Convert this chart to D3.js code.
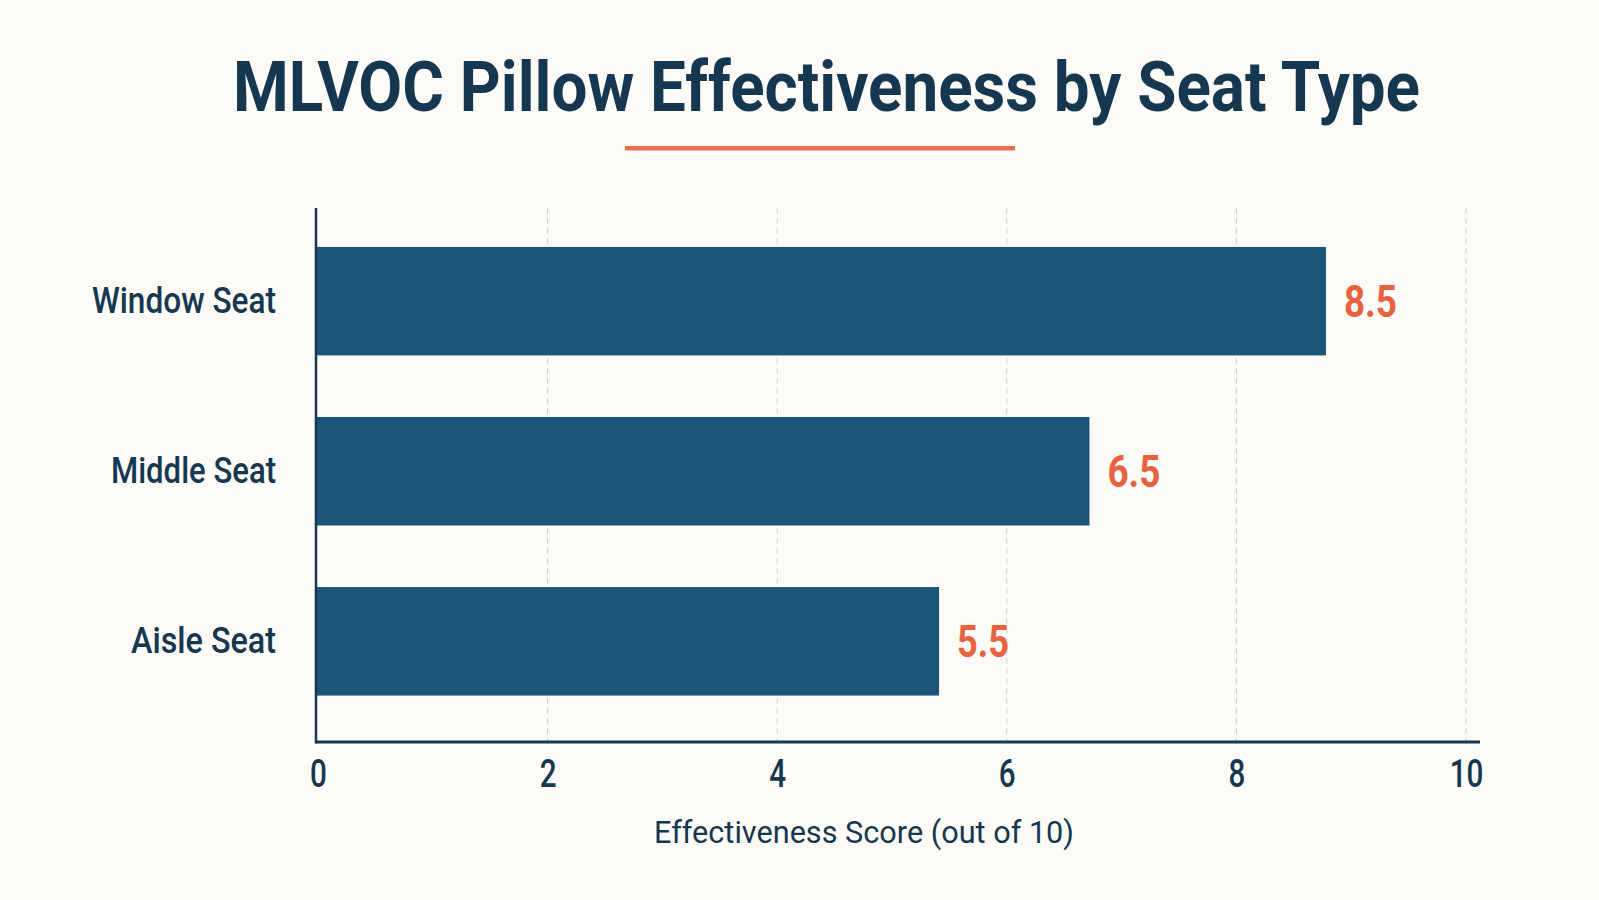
<!DOCTYPE html>
<html>
<head>
<meta charset="utf-8">
<script src="https://cdn.jsdelivr.net/npm/d3@7"></script>
<style>
  html, body { margin: 0; padding: 0; background: #fcfbf7; }
  svg { display: block; font-family: Roboto, "Noto Sans", sans-serif; }
</style>
</head>
<body>
<svg id="chart" width="1599" height="900"></svg>
<script>
// ---- data ----
const categories = ["Window Seat", "Middle Seat", "Aisle Seat"];
const barValues = [8.78, 6.72, 5.41];          // bar lengths as drawn
const valueLabels = ["8.5", "6.5", "5.5"];      // printed labels
const xTicks = [0, 2, 4, 6, 8, 10];
const titleText = "MLVOC Pillow Effectiveness by Seat Type";
const xAxisTitle = "Effectiveness Score (out of 10)";

// ---- styling ----
const navy = "#15374f";
const barColor = "#1b5478";
const orange = "#e8623f";
const W = 1599, H = 900;

const svg = d3.select("#chart");
svg.append("rect").attr("width", W).attr("height", H).attr("fill", "#fcfbf7");

const x = d3.scaleLinear().domain([0, 10]).range([318, 1466]);
const y = d3.scaleBand().domain(categories).range([208, 734.5])
  .paddingInner(0.362).paddingOuter(0.229);
const axisY = 742;

// title
svg.append("text")
  .attr("x", 233).attr("y", 111)
  .attr("font-size", 71).attr("font-weight", 700)
  .attr("fill", navy)
  .attr("textLength", 1187).attr("lengthAdjust", "spacingAndGlyphs")
  .text(titleText);
svg.append("rect")
  .attr("x", 625).attr("y", 146).attr("width", 390).attr("height", 4.5)
  .attr("fill", "#e8704f");

// gridlines
svg.append("g").selectAll("line")
  .data(xTicks.filter(d => d > 0))
  .join("line")
  .attr("x1", d => x(d)).attr("x2", d => x(d))
  .attr("y1", 208).attr("y2", axisY)
  .attr("stroke", "#cfcfcc").attr("stroke-width", 1)
  .attr("stroke-dasharray", "6,4");

// bars
svg.append("g").selectAll("rect")
  .data(categories)
  .join("rect")
  .attr("x", x(0) - 2)
  .attr("y", d => y(d))
  .attr("width", (d, i) => x(barValues[i]) - x(0) + 2)
  .attr("height", y.bandwidth())
  .attr("fill", barColor);

// value labels
const labelWidths = [53, 53, 52];
svg.append("g").selectAll("text")
  .data(categories)
  .join("text")
  .attr("x", (d, i) => x(barValues[i]) + 18)
  .attr("y", d => y(d) + y.bandwidth() / 2 + 16)
  .attr("font-size", 45).attr("font-weight", 700)
  .attr("fill", orange)
  .attr("textLength", (d, i) => labelWidths[i])
  .attr("lengthAdjust", "spacingAndGlyphs")
  .text((d, i) => valueLabels[i]);

// category labels
const catWidths = [184, 165, 145];
svg.append("g").selectAll("text")
  .data(categories)
  .join("text")
  .attr("x", 276)
  .attr("y", d => y(d) + y.bandwidth() / 2 + 12)
  .attr("text-anchor", "end")
  .attr("font-size", 36).attr("font-weight", 500)
  .attr("fill", navy)
  .attr("textLength", (d, i) => catWidths[i])
  .attr("lengthAdjust", "spacingAndGlyphs")
  .text(d => d);

// axes
const xAxis = d3.axisBottom(x).tickValues(xTicks).tickSize(0).tickPadding(0);
const gx = svg.append("g").attr("transform", `translate(0,${axisY})`).call(xAxis);
gx.select(".domain").remove();
gx.selectAll("text")
  .attr("font-family", "Roboto, sans-serif")
  .attr("font-size", 38).attr("font-weight", 500)
  .attr("fill", navy)
  .attr("dy", null)
  .attr("y", 45)
  .attr("transform", "scale(0.78,1)");

svg.append("line")
  .attr("x1", x(0) - 2).attr("x2", 1480)
  .attr("y1", axisY).attr("y2", axisY)
  .attr("stroke", navy).attr("stroke-width", 3);
svg.append("line")
  .attr("x1", x(0) - 2).attr("x2", x(0) - 2)
  .attr("y1", 208).attr("y2", axisY + 1.5)
  .attr("stroke", navy).attr("stroke-width", 2.5);

// x axis title
svg.append("text")
  .attr("x", 654).attr("y", 843)
  .attr("font-size", 30.5).attr("font-weight", 400)
  .attr("fill", navy)
  .attr("textLength", 420).attr("lengthAdjust", "spacingAndGlyphs")
  .text(xAxisTitle);
</script>
</body>
</html>
